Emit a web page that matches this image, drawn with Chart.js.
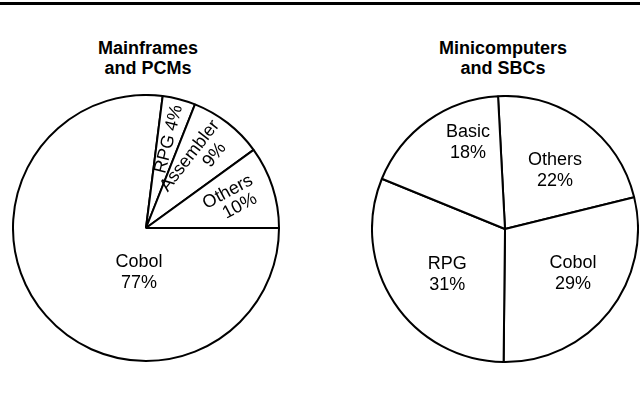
<!DOCTYPE html>
<html>
<head>
<meta charset="utf-8">
<script src="https://cdn.jsdelivr.net/npm/chart.js@4.4.0/dist/chart.umd.min.js"></script>
<style>
  body { margin: 0; background: #fff; width: 640px; height: 404px; overflow: hidden; position: relative; font-family: "Liberation Sans", Arial, sans-serif; }
  .rule { position: absolute; left: 0; top: 2px; width: 640px; height: 3px; background: #000; }
  .title { position: absolute; width: 200px; text-align: center; font-weight: bold; font-size: 18px; line-height: 20px; color: #000; }
  .box { position: absolute; width: 268px; height: 268px; }
</style>
</head>
<body>
<div class="rule"></div>
<div class="title" style="left:48px;top:38px">Mainframes<br>and PCMs</div>
<div class="title" style="left:403px;top:38px">Minicomputers<br>and SBCs</div>
<div class="box" style="left:12px;top:94px"><canvas id="mainframes" width="268" height="268"></canvas></div>
<div class="box" style="left:371px;top:95px"><canvas id="minis" width="268" height="268"></canvas></div>

<script>
// Data
const mainframeLangs = ["Cobol", "RPG", "Assembler", "Others"];
const mainframeShares = [77, 4, 9, 10];
const miniLangs = ["Others", "Cobol", "RPG", "Basic"];
const miniShares = [22, 29, 31, 18];

// Label placement (angle in degrees clockwise from top, null = middle of slice)
const mainframeLabelStyle = [
  { angle: 189, dist: 0.34 },
  { angle: null, dist: 0.69, rotate: true, oneLine: true },
  { angle: null, dist: 0.63, rotate: true, lineHeight: 19, shift: [0, 16] },
  { angle: null, dist: 0.68, rotate: true, lineHeight: 18, tilt: -10, shift: [0, 4] },
];
const miniLabelStyle = [
  { angle: 40.5, dist: 0.58 },
  { angle: 123, dist: 0.61 },
  { angle: 232, dist: 0.55 },
  { angle: 337, dist: 0.71 },
];

// one label plugin per chart, styles kept in the closure
function sliceLabels(styles) {
  return {
    id: "sliceLabels",
    afterDatasetsDraw(chart) {
      const ctx = chart.ctx;
      const meta = chart.getDatasetMeta(0);
      const values = chart.data.datasets[0].data;
      meta.data.forEach((arc, i) => {
        const st = styles[i];
        const p = arc.getProps(["x", "y", "startAngle", "endAngle", "outerRadius"], true);
        const a = st.angle == null ? (p.startAngle + p.endAngle) / 2 : (st.angle - 90) * Math.PI / 180;
        const px = p.x + Math.cos(a) * p.outerRadius * st.dist;
        const py = p.y + Math.sin(a) * p.outerRadius * st.dist;
        const name = chart.data.labels[i];
        const pct = values[i] + "%";
        const lines = st.oneLine ? [name + " " + pct] : [name, pct];
        const lh = st.lineHeight || 21;
        ctx.save();
        ctx.translate(px, py);
        if (st.rotate) ctx.rotate(a + (st.tilt || 0) * Math.PI / 180);
        ctx.fillStyle = "#000";
        ctx.font = '18px "Liberation Sans", Arial, sans-serif';
        ctx.textAlign = "center";
        ctx.textBaseline = "middle";
        lines.forEach((t, j) => {
          const dx = st.shift ? st.shift[j] : 0;
          ctx.fillText(t, dx, (j - (lines.length - 1) / 2) * lh);
        });
        ctx.restore();
      });
    },
  };
}

function makePie(id, labels, values, rotation, styles) {
  return new Chart(document.getElementById(id), {
    type: "pie",
    data: {
      labels: labels,
      datasets: [{
        data: values,
        backgroundColor: "#fff",
        borderColor: "#000",
        borderWidth: 2,
      }],
    },
    options: {
      responsive: false,
      animation: false,
      events: [],
      rotation: rotation,
      layout: { padding: 0 },
      plugins: {
        legend: { display: false },
        tooltip: { enabled: false },
      },
    },
    plugins: [sliceLabels(styles)],
  });
}

makePie("mainframes", mainframeLangs, mainframeShares, 90, mainframeLabelStyle);
makePie("minis", miniLangs, miniShares, -3, miniLabelStyle);
</script>
</body>
</html>
